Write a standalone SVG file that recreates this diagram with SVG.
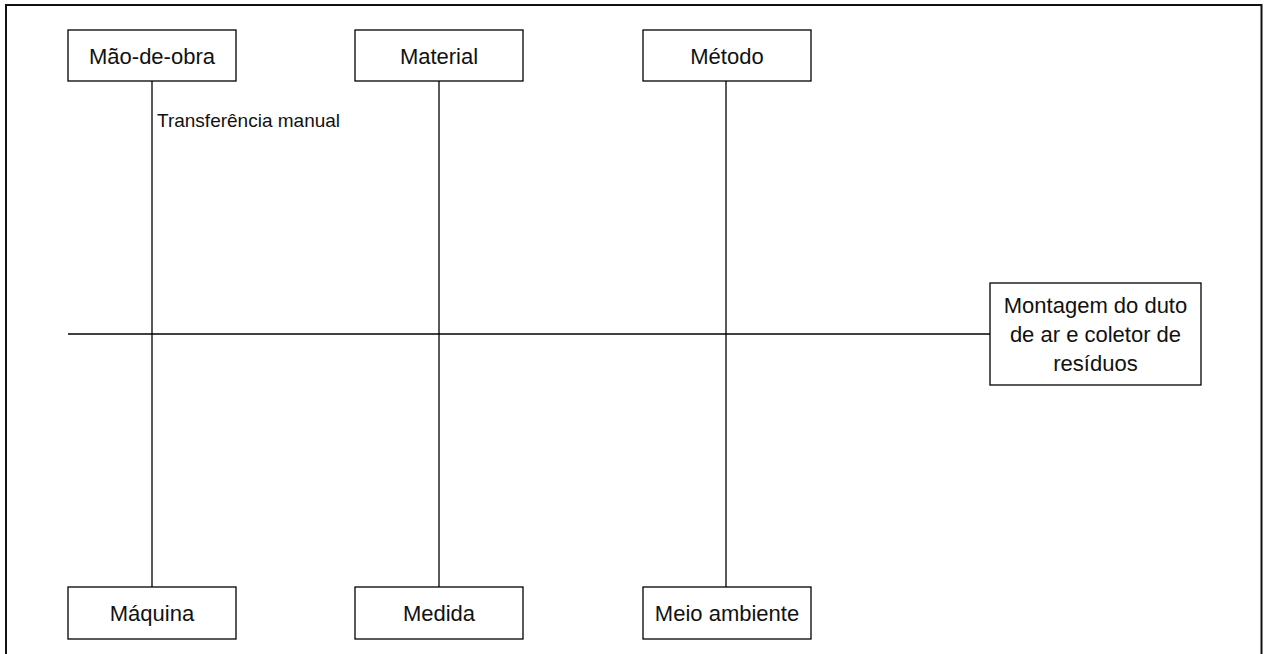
<svg xmlns="http://www.w3.org/2000/svg" width="1264" height="654" viewBox="0 0 1264 654">
  <style>
    .box { fill: #ffffff; stroke: #000000; stroke-width: 1.3; }
    .lbl { font-family: "Liberation Sans", Arial, sans-serif; font-size: 22px; fill: #111111; text-anchor: middle; }
    .note { font-family: "Liberation Sans", Arial, sans-serif; font-size: 19px; fill: #111111; }
    .bone { stroke: #000000; stroke-width: 1.3; fill: none; }
  </style>
  <rect x="0" y="0" width="1264" height="654" fill="#ffffff"/>
  <!-- frame -->
  <rect x="6" y="5" width="1255.5" height="700" fill="none" stroke="#111111" stroke-width="2"/>

  <!-- connectors: spine and category bones -->
  <g id="connectors">
    <line class="bone" x1="68" y1="334" x2="990" y2="334"/>
    <line class="bone" x1="152" y1="81" x2="152" y2="587"/>
    <line class="bone" x1="439" y1="81" x2="439" y2="587"/>
    <line class="bone" x1="726" y1="81" x2="726" y2="587"/>
  </g>

  <g id="mao-de-obra">
    <rect class="box" x="68" y="30" width="168" height="51"/>
    <text class="lbl" x="152" y="64">Mão-de-obra</text>
  </g>
  <g id="material">
    <rect class="box" x="355" y="30" width="168" height="51"/>
    <text class="lbl" x="439" y="64">Material</text>
  </g>
  <g id="metodo">
    <rect class="box" x="643" y="30" width="168" height="51"/>
    <text class="lbl" x="727" y="64">Método</text>
  </g>
  <g id="maquina">
    <rect class="box" x="68" y="587" width="168" height="52"/>
    <text class="lbl" x="152" y="621">Máquina</text>
  </g>
  <g id="medida">
    <rect class="box" x="355" y="587" width="168" height="52"/>
    <text class="lbl" x="439" y="621">Medida</text>
  </g>
  <g id="meio-ambiente">
    <rect class="box" x="643" y="587" width="168" height="52"/>
    <text class="lbl" x="727" y="621">Meio ambiente</text>
  </g>
  <g id="efeito">
    <rect class="box" x="990" y="283" width="211" height="102"/>
    <text class="lbl" x="1095.5" y="313">Montagem do duto</text>
    <text class="lbl" x="1095.5" y="342">de ar e coletor de</text>
    <text class="lbl" x="1095.5" y="371">resíduos</text>
  </g>
  <g id="causa-transferencia">
    <text class="note" x="157" y="127">Transferência manual</text>
  </g>
</svg>
